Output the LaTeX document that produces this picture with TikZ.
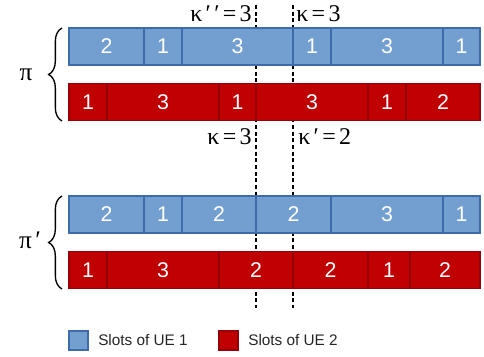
\documentclass[tikz,border=0pt]{standalone}
\usepackage{fontspec}
\setmainfont{Liberation Serif}
\newfontfamily\slotfont{Liberation Sans}
\usetikzlibrary{decorations.pathreplacing,positioning}
\definecolor{ueblue}{RGB}{114,159,207}
\definecolor{ueblueline}{RGB}{62,108,170}
\definecolor{uered}{RGB}{192,0,0}
\definecolor{ueredline}{RGB}{150,0,10}
\newcommand{\kgap}{\kern2.5pt}

\tikzset{
  slot/.style={draw, line width=1.1pt, inner sep=0pt, outer sep=0pt, anchor=west,
    minimum height=37*0.75pt, text=white, font=\slotfont\fontsize{16}{18}\selectfont},
  ueone/.style={slot, fill=ueblue, draw=ueblueline},
  uetwo/.style={slot, fill=uered, draw=ueredline},
  kappa/.style={inner sep=0pt, font=\fontsize{18}{20}\selectfont},
  cut/.style={draw, line width=1.1pt, dash pattern=on 3pt off 2pt},
  bracket/.style={draw, line width=1pt, decorate, decoration={brace, amplitude=10pt}},
  keybox/.style={draw, line width=1.1pt, minimum size=19*0.75pt, inner sep=0pt, outer sep=0pt},
  keytext/.style={inner sep=0pt, font=\slotfont\fontsize{11.5}{14}\selectfont, text=black!85}
}

\begin{document}
\begin{tikzpicture}[x=0.75pt, y=-0.75pt]
        \useasboundingbox (0,0) rectangle (484,356);
        \coordinate (cutL top) at (256,5);
        \coordinate (cutL bot) at (256,308);
        \coordinate (cutR top) at (293,5);
        \coordinate (cutR bot) at (293,308);

        % cuts (behind the slots)
        \path[cut] (cutL top) -- (cutL bot);
        \path[cut] (cutR top) -- (cutR bot);

        % schedule pi
        \foreach \x/\w/\t [count=\i] in {69/75/2,144/38/1,182/111/3,293/38/1,331/112/3,443/37/1}
          \node[ueone, minimum width=\w*0.75pt] (a\i) at (\x,46.5) {\t};
        \foreach \x/\w/\t [count=\i] in {69/38/1,107/112/3,219/37/1,256/112/3,368/38/1,406/74/2}
          \node[uetwo, minimum width=\w*0.75pt] (b\i) at (\x,102) {\t};
        % schedule pi'
        \foreach \x/\w/\t [count=\i] in {69/75/2,144/38/1,182/74/2,256/75/2,331/112/3,443/37/1}
          \node[ueone, minimum width=\w*0.75pt] (c\i) at (\x,214.5) {\t};
        \foreach \x/\w/\t [count=\i] in {69/38/1,107/112/3,219/74/2,293/75/2,368/42/1,410/70/2}
          \node[uetwo, minimum width=\w*0.75pt] (d\i) at (\x,270) {\t};

        % kappa values
        \node[kappa, anchor=base east] (kapTL) at (252,22) {κ\kgap′\kgap′\kgap=\kgap3};
        \node[kappa, anchor=base west] (kapTR) at (296,22) {κ\kgap=\kgap3};
        \node[kappa, anchor=base east] (kapBL) at (252,144) {κ\kgap=\kgap3};
        \node[kappa, anchor=base west] (kapBR) at (298,144) {κ\kgap′\kgap=\kgap2};

        % braces
        \path[bracket] (62,121) -- (62,28);
        \node[font=\fontsize{19}{20}\selectfont] (pi) at (26,74.5) {π};
        \path[bracket] (62,289) -- (62,196);
        \node[font=\fontsize{19}{20}\selectfont] (piprime) at (30,240) {π\kgap′};

        % legend
        \node[keybox, fill=ueblue, draw=ueblueline] (key1) at (78.5,340.5) {};
        \node[keytext, right=7.5pt of key1] (key1 text) {Slots of UE 1};
        \node[keybox, fill=uered, draw=ueredline] (key2) at (228.5,340.5) {};
        \node[keytext, right=7.5pt of key2] (key2 text) {Slots of UE 2};
\end{tikzpicture}
\end{document}
